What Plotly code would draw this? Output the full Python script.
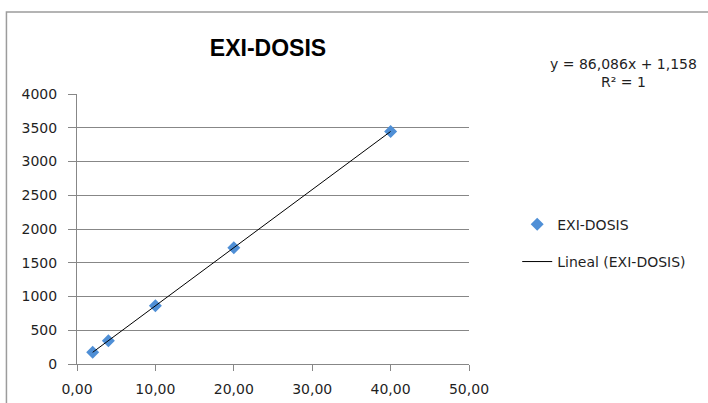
import plotly.graph_objects as go

# Dose series (x) and measured response (y)
dosis = [2, 4, 10, 20, 40]
respuesta = [173.3, 345.5, 862.0, 1722.9, 3444.6]

# Linear trendline coefficients and fit quality
pendiente = 86.086
intercepto = 1.158
r2 = 1

x_ticks = [0, 10, 20, 30, 40, 50]
y_ticks = [0, 500, 1000, 1500, 2000, 2500, 3000, 3500, 4000]

serie = "EXI-DOSIS"
tendencia = "Lineal (EXI-DOSIS)"

FONT = "DejaVu Sans"
TXT = "#1f1f1f"
GRID = "#878787"

x_line = [min(dosis), max(dosis)]
y_line = [pendiente * v + intercepto for v in x_line]

fig = go.Figure()
fig.add_trace(go.Scatter(
    x=dosis, y=respuesta, mode="markers", name=serie, legendgroup="a",
    marker=dict(symbol="diamond", size=10, color="#4F8FD6",
                line=dict(width=0)),
))
fig.add_trace(go.Scatter(
    x=x_line, y=y_line, mode="lines", name=tendencia, legendgroup="b",
    line=dict(color="#000000", width=1),
))

ecuacion = "y = {:.3f}x + {:.3f}".format(pendiente, intercepto).replace(".", ",")
fig.add_annotation(
    text=ecuacion + "<br>R² = {}".format(r2),
    xref="paper", yref="paper", x=1.393, y=1.078,
    xanchor="center", yanchor="middle", align="center", showarrow=False,
    font=dict(family=FONT, size=14, color=TXT),
)

# Chart frame
fig.add_shape(type="rect", xref="paper", yref="paper",
              x0=-0.18, y0=-0.3, x1=1.8, y1=1.304,
              line=dict(color="#9c9c9c", width=1.5), fillcolor="rgba(0,0,0,0)")

fig.update_layout(
    width=708, height=403,
    margin=dict(l=77, r=239, t=94, b=39, autoexpand=False),
    paper_bgcolor="white", plot_bgcolor="white",
    separators=",.",
    title=dict(text="<b>EXI-DOSIS</b>", x=268 / 708, xref="container", xanchor="center",
               y=1 - 48 / 403, yref="container", yanchor="middle",
               font=dict(family="Liberation Sans", size=23, color="#000000")),
    showlegend=True,
    legend=dict(x=1.123, y=0.575, xanchor="left", yanchor="top",
                tracegroupgap=16, bgcolor="rgba(0,0,0,0)",
                font=dict(family=FONT, size=14, color=TXT)),
    xaxis=dict(range=[0, 50], tickvals=x_ticks, tickformat=".2f",
               showgrid=False, zeroline=False, showline=True,
               linecolor=GRID, linewidth=1, ticks="outside", ticklen=6,
               tickcolor=GRID, tickwidth=1, ticklabelstandoff=6,
               tickfont=dict(family=FONT, size=14, color=TXT), fixedrange=True),
    yaxis=dict(range=[0, 4000], tickvals=y_ticks, tickformat="d",
               showgrid=True, gridcolor=GRID, gridwidth=1, zeroline=False,
               showline=True, linecolor=GRID, linewidth=1,
               ticks="outside", ticklen=8, tickcolor=GRID, tickwidth=1,
               ticklabelstandoff=8,
               tickfont=dict(family=FONT, size=14, color=TXT), fixedrange=True),
)

fig.write_html("out.html")
